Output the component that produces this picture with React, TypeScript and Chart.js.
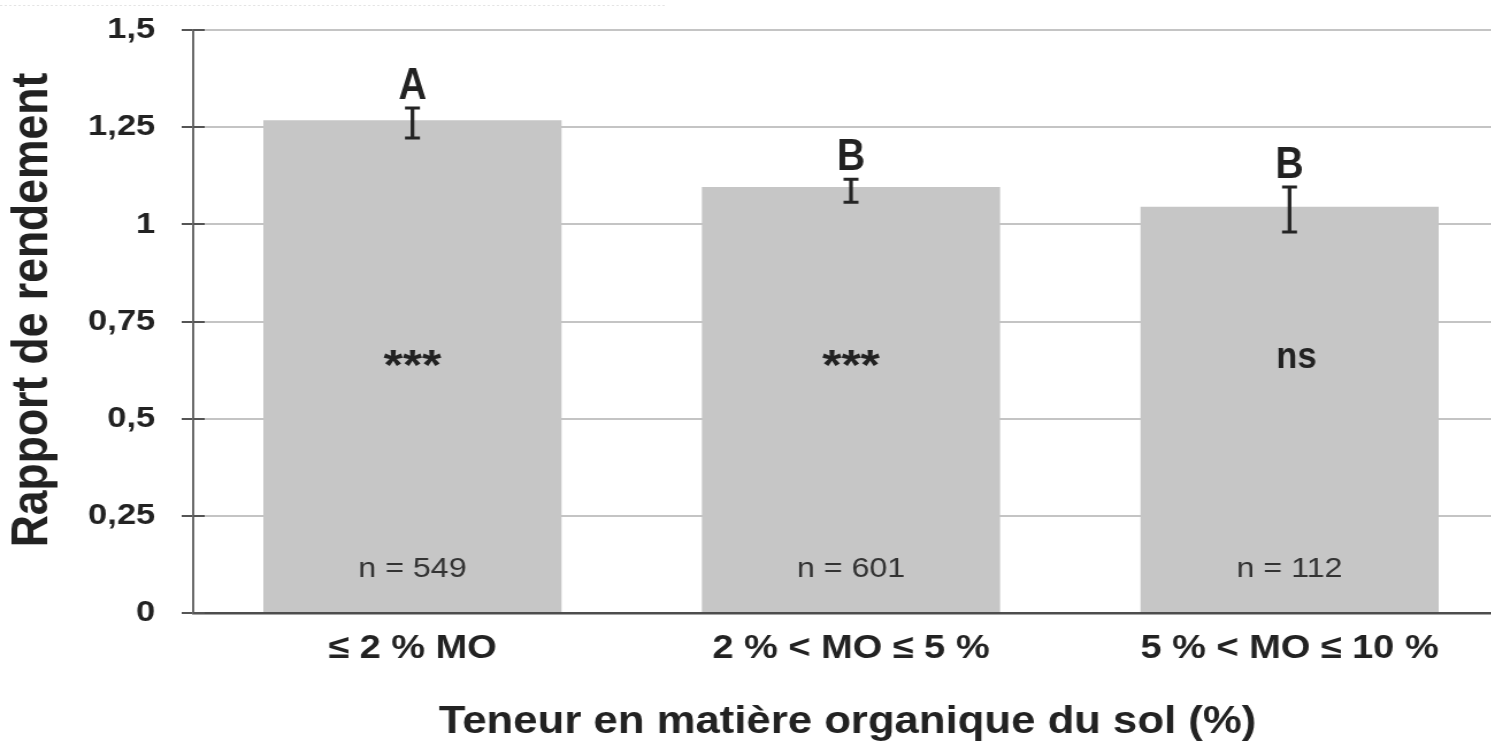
import { useEffect, useRef } from "react";
import { Chart, registerables } from "chart.js";

Chart.register(...registerables);

// ---- data ----
const categories = ["≤ 2 % MO", "2 % < MO ≤ 5 %", "5 % < MO ≤ 10 %"];
const yieldRatio = [1.268, 1.096, 1.045];
const errorLow = [1.222, 1.057, 0.98];
const errorHigh = [1.299, 1.116, 1.096];
const groupLetters = ["A", "B", "B"];
const significance = ["***", "***", "ns"];
const sampleSizes = ["n = 549", "n = 601", "n = 112"];
const yTicks = [0, 0.25, 0.5, 0.75, 1, 1.25, 1.5];
const yAxisTitle = "Rapport de rendement";
const xAxisTitle = "Teneur en matière organique du sol (%)";

// ---- layout / style ----
const STRETCH = 1.15;
const CW = 1320;
const CH = 741;
const FONT = "'Liberation Sans', Arial, Helvetica, sans-serif";
const SIG_LEVEL = 0.656;
const N_LEVEL = 0.116;

function drawCentered(ctx: CanvasRenderingContext2D, text: string, x: number, cy: number, font: string, color: string, sy: number) {
  ctx.save();
  ctx.font = font;
  ctx.fillStyle = color;
  ctx.textAlign = "center";
  ctx.textBaseline = "alphabetic";
  const m = ctx.measureText(text);
  const mid = (m.actualBoundingBoxAscent - m.actualBoundingBoxDescent) / 2;
  ctx.translate(x, cy);
  ctx.scale(1, sy);
  ctx.fillText(text, 0, mid);
  ctx.restore();
}

const annotate = {
  id: "annotate",
  afterDatasetsDraw(chart: any) {
    const ctx: CanvasRenderingContext2D = chart.ctx;
    const y = chart.scales.y;
    const area = chart.chartArea;
    const meta = chart.getDatasetMeta(0);
    ctx.save();

    // faint line at the top
    ctx.strokeStyle = "#e4e4e4";
    ctx.lineWidth = 1;
    ctx.setLineDash([2, 2]);
    ctx.beginPath();
    ctx.moveTo(0, 5.5);
    ctx.lineTo(578, 5.5);
    ctx.stroke();
    ctx.setLineDash([]);

    // inner part of the crossing tick marks
    ctx.strokeStyle = "#555";
    ctx.lineWidth = 2;
    y.ticks.forEach((t: any) => {
      const py = Math.round(y.getPixelForValue(t.value));
      ctx.beginPath();
      ctx.moveTo(area.left, py);
      ctx.lineTo(area.left + 10, py);
      ctx.stroke();
    });

    meta.data.forEach((bar: any, i: number) => {
      const x = bar.x;
      const yH = y.getPixelForValue(errorHigh[i]);
      const yL = y.getPixelForValue(errorLow[i]);
      // error bar
      ctx.strokeStyle = "#242424";
      ctx.lineWidth = 3.2;
      ctx.beginPath();
      ctx.moveTo(x, yH);
      ctx.lineTo(x, yL);
      ctx.stroke();
      ctx.lineWidth = 3;
      ctx.beginPath();
      ctx.moveTo(x - 6.5, yH);
      ctx.lineTo(x + 6.5, yH);
      ctx.moveTo(x - 6.5, yL);
      ctx.lineTo(x + 6.5, yL);
      ctx.stroke();

      // group letter
      ctx.save();
      ctx.font = `bold 34px ${FONT}`;
      ctx.fillStyle = "#222";
      ctx.textAlign = "center";
      ctx.textBaseline = "alphabetic";
      ctx.translate(x, yH - 9);
      ctx.scale(1, 1.3);
      ctx.fillText(groupLetters[i], 0, 0);
      ctx.restore();

      // significance
      const sig = significance[i];
      const isStar = sig.indexOf("*") >= 0;
      drawCentered(
        ctx,
        sig,
        x + (isStar ? 0 : 6),
        y.getPixelForValue(SIG_LEVEL),
        `bold ${isStar ? 43 : 30}px ${FONT}`,
        "#222",
        isStar ? 1 : 1.25
      );

      // sample size
      drawCentered(ctx, sampleSizes[i], x, y.getPixelForValue(N_LEVEL), `28px ${FONT}`, "#333", 1);
    });

    // x axis title
    ctx.font = `bold 38px ${FONT}`;
    ctx.fillStyle = "#222";
    ctx.textAlign = "center";
    ctx.textBaseline = "alphabetic";
    ctx.fillText(xAxisTitle, (area.left + area.right) / 2 - 3, 733);

    // y axis title
    ctx.save();
    ctx.translate(29, 310);
    ctx.rotate(-Math.PI / 2);
    ctx.font = `bold 44.5px ${FONT}`;
    ctx.textAlign = "center";
    ctx.textBaseline = "middle";
    ctx.fillText(yAxisTitle, 0, 0);
    ctx.restore();

    ctx.restore();
  },
};

export default function App() {
  const ref = useRef<HTMLCanvasElement>(null);
  useEffect(() => {
    const chart = new Chart(ref.current as HTMLCanvasElement, {
      type: "bar",
      data: {
        labels: categories,
        datasets: [
          {
            data: yieldRatio,
            backgroundColor: "#c6c6c6",
            borderWidth: 0,
            barPercentage: 0.68,
            categoryPercentage: 1,
          },
        ],
      },
      options: {
        animation: false,
        responsive: false,
        devicePixelRatio: 1,
        events: [],
        layout: { padding: { top: 30, right: 8, left: 0, bottom: 0 } },
        plugins: {
          legend: { display: false },
          tooltip: { enabled: false },
        },
        scales: {
          x: {
            type: "category",
            offset: true,
            grid: { display: false, drawTicks: false },
            border: { display: true, color: "#4d4d4d", width: 2.5 },
            ticks: {
              font: { family: FONT, size: 33, weight: "bold" },
              color: "#222",
              padding: 16,
              maxRotation: 0,
              autoSkip: false,
            },
            afterFit: (s: any) => {
              s.height = CH - 613;
              s.paddingLeft = 0;
              s.paddingRight = 0;
            },
          },
          y: {
            min: 0,
            max: 1.5,
            afterBuildTicks: (s: any) => {
              s.ticks = yTicks.map((v) => ({ value: v }));
            },
            grid: {
              color: "#c4c4c4",
              lineWidth: 2,
              drawTicks: true,
              tickLength: 10,
              tickColor: "#555",
            },
            border: { display: true, color: "#6b6b6b", width: 2 },
            ticks: {
              font: { family: FONT, size: 30, weight: "bold" },
              color: "#222",
              padding: 23,
              callback: (v: any) => String(v).replace(".", ","),
            },
            title: { display: false },
            afterFit: (s: any) => {
              s.width = 168;
              s.paddingTop = 0;
              s.paddingBottom = 0;
            },
          },
        },
      },
      plugins: [annotate],
    } as any);
    return () => chart.destroy();
  }, []);

  return (
    <div
      style={{
        position: "fixed",
        left: 0,
        top: 0,
        width: 1491,
        height: 741,
        overflow: "hidden",
        background: "#fff",
      }}
    >
      <div style={{ width: CW, height: CH, transform: `scaleX(${STRETCH})`, transformOrigin: "0 0" }}>
        <canvas ref={ref} width={CW} height={CH} style={{ display: "block", width: CW, height: CH }} />
      </div>
    </div>
  );
}
